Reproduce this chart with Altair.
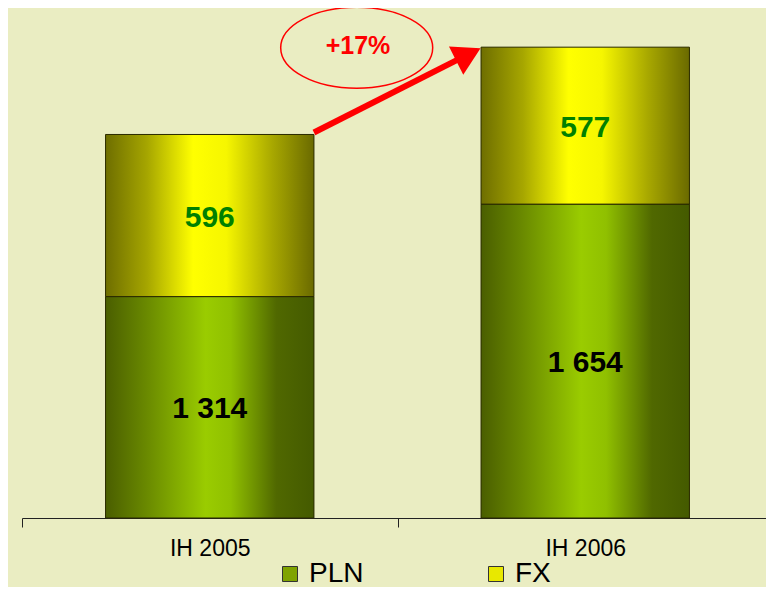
import math
import altair as alt
import pandas as pd

# ---- data ----
periods = ["IH 2005", "IH 2006"]
series = ["PLN", "FX"]
pln = [1314, 1654]
fx = [596, 577]

rows = []
for i, p in enumerate(periods):
    rows.append({"period": p, "series": "PLN", "value": pln[i], "order": 0})
    rows.append({"period": p, "series": "FX", "value": fx[i], "order": 1})
df = pd.DataFrame(rows)

totals = [a + b for a, b in zip(pln, fx)]
arrow_df = pd.DataFrame([{"p0": periods[0], "p1": periods[1], "t0": totals[0], "t1": totals[1]}])

# ---- layout / style ----
FONT = "Liberation Sans"
W, H = 751, 510
YMIN, YMAX = 500, 2375
BAND = 0.555
HALF = BAND * (W / 2) / 2

xscale = alt.Scale(domain=periods, paddingInner=0, paddingOuter=0)
yscale = alt.Scale(domain=[YMIN, YMAX], nice=False, zero=False, clamp=True)

x_axis = alt.Axis(title=None, labelAngle=0, tickBand="extent", domainColor="#222222",
                  tickColor="#222222", tickSize=9, domainWidth=1, tickWidth=1,
                  labelFontSize=23, labelFont=FONT, labelColor="#000000",
                  labelPadding=10, grid=False)

def xenc(field):
    return alt.X(f"{field}:N", scale=xscale, axis=x_axis, sort=periods)

base = alt.Chart(df).transform_stack(
    stack="value", groupby=["period"], as_=["y0", "y1"],
    sort=[alt.SortField("order", order="ascending")]
)

legend_bars = base.mark_bar(width=alt.RelativeBandSize(BAND)).encode(
    x=xenc("period"),
    y=alt.Y("y0:Q", scale=yscale, axis=None),
    y2="y1:Q",
    color=alt.Color("series:N",
                    scale=alt.Scale(domain=series, range=["#7FA300", "#E8E800"]),
                    legend=alt.Legend(orient="none", legendX=254, legendY=552,
                                      direction="horizontal", title=None,
                                      symbolType="square", symbolSize=225,
                                      symbolStrokeColor="#333333", symbolStrokeWidth=1,
                                      symbolOpacity=1, labelFontSize=28, labelFont=FONT,
                                      labelColor="#000000", labelOffset=5,
                                      columnPadding=118, padding=0)),
)

def grad(stops):
    return alt.Gradient(gradient="linear", x1=0, x2=1, y1=0, y2=0,
                        stops=[alt.GradientStop(color=c, offset=o) for o, c in stops])

grad_pln = grad([(0, "#4A5E00"), (0.2, "#6A8A00"), (0.48, "#9ACC00"),
                 (0.6, "#90C000"), (0.82, "#506800"), (1, "#445A00")])
grad_fx = grad([(0, "#6E6E00"), (0.2, "#A6A600"), (0.42, "#FFFF00"),
                (0.58, "#F6F600"), (0.8, "#A8A800"), (1, "#6A6A00")])

def seg_layer(name, g):
    return base.transform_filter(f"datum.series == '{name}'").mark_bar(
        width=alt.RelativeBandSize(BAND), fill=g, stroke="#2A2A00", strokeWidth=1
    ).encode(
        x=xenc("period"),
        y=alt.Y("y0:Q", scale=yscale, axis=None),
        y2="y1:Q",
    )

pln_bars = seg_layer("PLN", grad_pln)
fx_bars = seg_layer("FX", grad_fx)

labels = base.transform_calculate(
    mid=f"(max(datum.y0, {YMIN}) + datum.y1) / 2",
    label="replace(format(datum.value, ','), ',', ' ')",
).mark_text(font=FONT, fontSize=30, fontWeight="bold", baseline="middle", dy=2).encode(
    x=xenc("period"),
    y=alt.Y("mid:Q", scale=yscale, axis=None),
    text="label:N",
    color=alt.condition("datum.series == 'PLN'", alt.value("#000000"), alt.value("#008000")),
)

# ---- growth arrow from top of first bar to top of second bar ----
k = H / (YMAX - YMIN)
sx, sy = W / 4 + HALF, H - (totals[0] - YMIN) * k - 2
tx, ty = 3 * W / 4 - HALF - 0.5, H - (totals[1] - YMIN) * k + 1
theta = math.atan2(sy - ty, tx - sx)
ux, uy = math.cos(theta), -math.sin(theta)
HEAD = 27.4

shaft = alt.Chart(arrow_df).mark_rule(
    color="#FF0000", strokeWidth=6,
    xOffset=HALF, yOffset=-2,
    x2Offset=-HALF - 0.5 - (HEAD - 3) * ux, y2Offset=1 - (HEAD - 3) * uy,
).encode(
    x=xenc("p0"),
    x2="p1:N",
    y=alt.Y("t0:Q", scale=yscale, axis=None),
    y2="t1:Q",
)

head = alt.Chart(arrow_df).mark_point(
    shape="triangle-up", size=1000, filled=True, color="#FF0000", opacity=1,
    strokeWidth=0, angle=90 - math.degrees(theta),
    xOffset=-HALF - 0.5 - HEAD / 2 * ux, yOffset=1 - HEAD / 2 * uy,
).encode(
    x=xenc("p1"),
    y=alt.Y("t1:Q", scale=yscale, axis=None),
)

ellipse = alt.Chart(arrow_df).mark_point(
    shape="M-1,0A1,0.533,0,1,1,1,0A1,0.533,0,1,1,-1,0Z",
    size=152 * 152, filled=False, stroke="#FF0000", strokeWidth=1.5, opacity=1,
).encode(x=alt.value(334.7), y=alt.value(39.8))

pct = alt.Chart(arrow_df).transform_calculate(
    pct="'+' + format(datum.t1 / datum.t0 - 1, '.0%')"
).mark_text(font=FONT, fontSize=25, fontWeight="bold", color="#FF0000",
            baseline="middle").encode(
    x=alt.value(336), y=alt.value(38), text="pct:N"
)

chart = alt.layer(
    legend_bars, pln_bars, fx_bars, labels, shaft, head, ellipse, pct
).properties(
    width=W, height=H,
    padding={"left": 14, "top": 0, "right": -7, "bottom": 69},
    autosize=alt.AutoSizeParams(type="none"),
    background="#EAEDC2",
).configure_view(stroke=None)

chart.save("out.html", embed_options={"renderer": "svg", "actions": False})
